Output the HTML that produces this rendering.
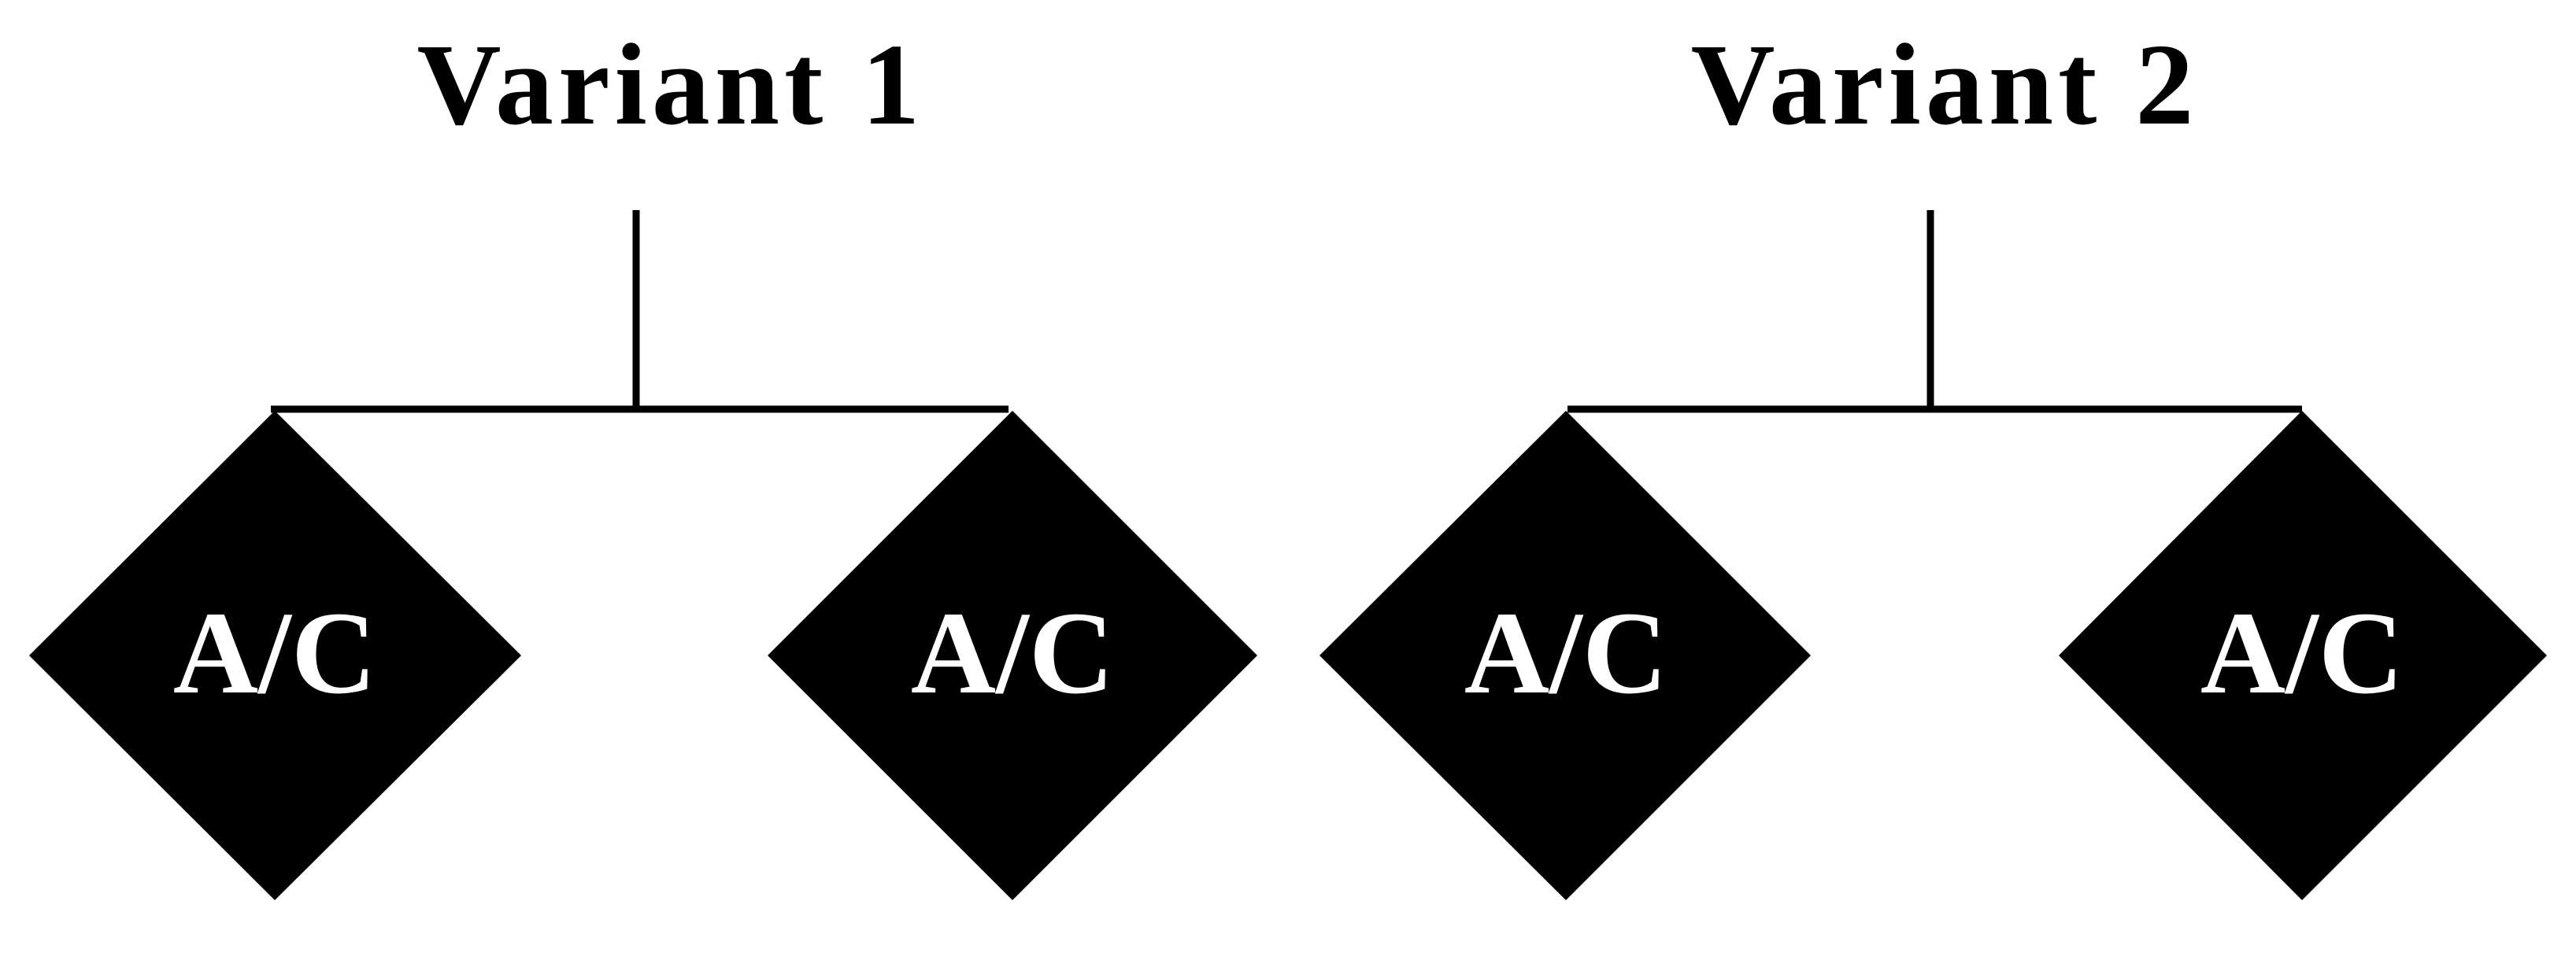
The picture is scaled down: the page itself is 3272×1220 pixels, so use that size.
<!DOCTYPE html>
<html><head><meta charset="utf-8"><style>
html,body{margin:0;padding:0;background:#fff;}
svg{display:block;}
text{font-family:"Liberation Serif",serif;font-weight:bold;}
</style></head><body>
<svg width="3272" height="1220" viewBox="0 0 3272 1220">
<g>
<text x="852" y="157" font-size="148" letter-spacing="6" text-anchor="middle">Variant 1</text>
<line x1="808" y1="267" x2="808" y2="522" stroke="#000" stroke-width="9"/>
<line x1="344" y1="520" x2="1281" y2="520" stroke="#000" stroke-width="9"/>
<polygon points="349,522 662,833 349,1144 37,833" fill="#000"/>
<text x="349" y="880" font-size="150" fill="#fff" text-anchor="middle">A/C</text>
<polygon points="1286,522 1597,833 1286,1144 975,833" fill="#000"/>
<text x="1286" y="880" font-size="150" fill="#fff" text-anchor="middle">A/C</text>
</g>
<g>
<text x="2470" y="157" font-size="148" letter-spacing="6" text-anchor="middle">Variant 2</text>
<line x1="2452" y1="267" x2="2452" y2="522" stroke="#000" stroke-width="9"/>
<line x1="1991" y1="520" x2="2924" y2="520" stroke="#000" stroke-width="9"/>
<polygon points="1989,522 2300,833 1989,1144 1676,833" fill="#000"/>
<text x="1989" y="880" font-size="150" fill="#fff" text-anchor="middle">A/C</text>
<polygon points="2924,522 3235,833 2924,1144 2615,833" fill="#000"/>
<text x="2924" y="880" font-size="150" fill="#fff" text-anchor="middle">A/C</text>
</g>
</svg>
</body></html>
